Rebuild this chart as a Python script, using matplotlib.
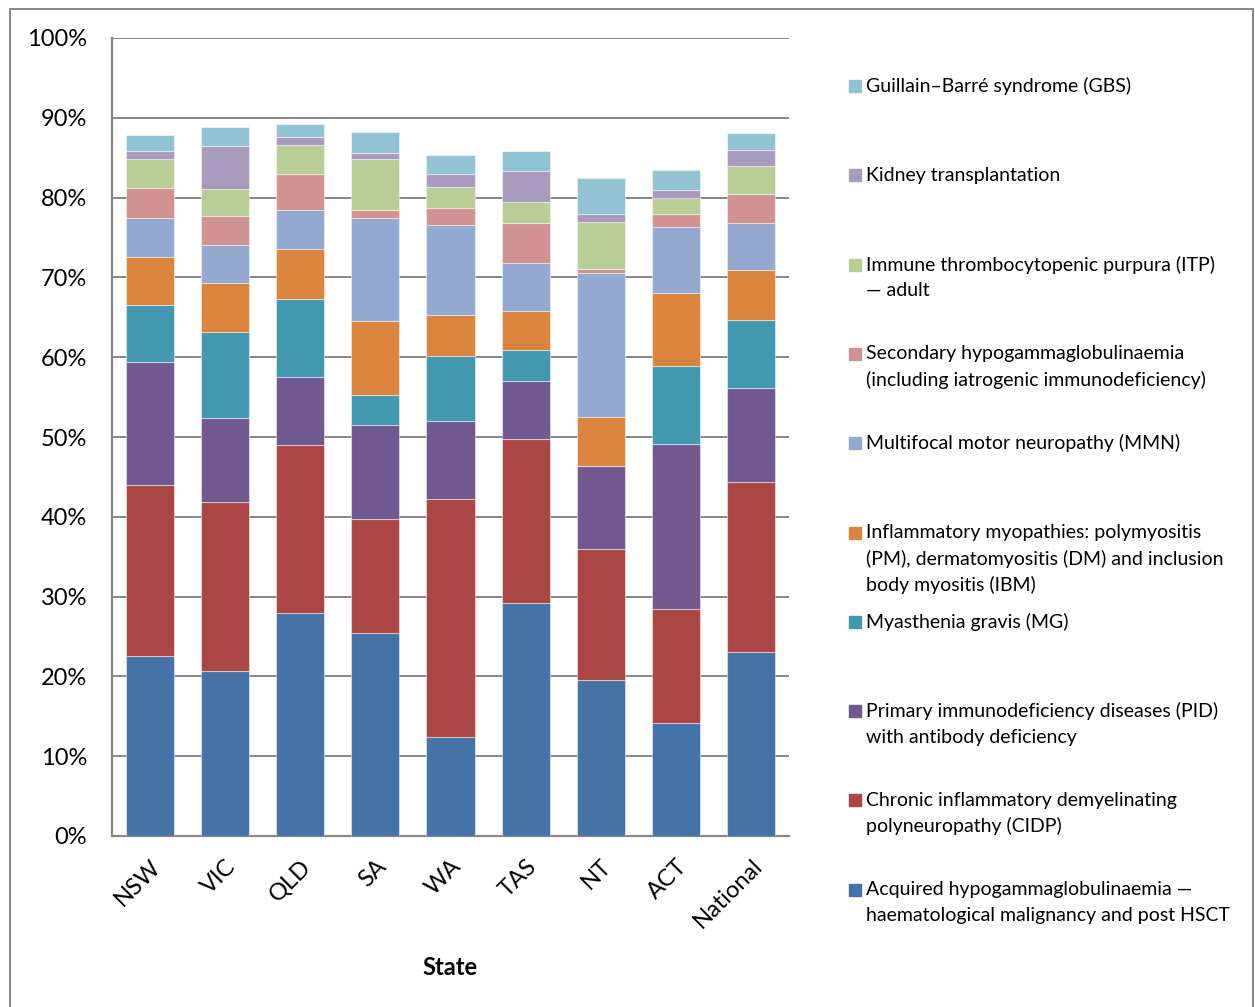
import matplotlib.pyplot as plt
from matplotlib.patches import Rectangle
from matplotlib.ticker import PercentFormatter
from matplotlib.transforms import ScaledTranslation
import numpy as np

plt.rcParams['font.family'] = ['Lato', 'DejaVu Sans']

states = ["NSW", "VIC", "QLD", "SA", "WA", "TAS", "NT", "ACT", "National"]

# share of use by condition (%), listed from the bottom of each stack up
acquired_hypo = [22.6, 20.7, 28.0, 25.4, 12.4, 29.2, 19.6, 14.2, 23.1]
cidp = [21.4, 21.1, 21.0, 14.3, 29.8, 20.5, 16.4, 14.2, 21.2]
pid = [15.4, 10.6, 8.5, 11.8, 9.8, 7.3, 10.4, 20.7, 11.9]
mg = [7.2, 10.8, 9.8, 3.8, 8.2, 3.9, 0.0, 9.8, 8.5]
myopathies = [5.9, 6.1, 6.3, 9.2, 5.1, 4.9, 6.1, 9.1, 6.2]
mmn = [5.0, 4.8, 4.8, 12.9, 11.3, 6.0, 18.1, 8.3, 5.9]
secondary_hypo = [3.7, 3.6, 4.5, 1.0, 2.1, 5.0, 0.5, 1.7, 3.6]
itp = [3.6, 3.4, 3.7, 6.4, 2.6, 2.6, 5.8, 1.9, 3.6]
kidney = [1.0, 5.4, 1.0, 0.8, 1.6, 3.9, 1.1, 1.1, 2.0]
gbs = [2.0, 2.3, 1.6, 2.6, 2.4, 2.5, 4.5, 2.5, 2.1]

series = [acquired_hypo, cidp, pid, mg, myopathies, mmn,
          secondary_hypo, itp, kidney, gbs]
labels = [
    ["Acquired hypogammaglobulinaemia \u2014",
     "haematological malignancy and post HSCT"],
    ["Chronic inflammatory demyelinating", "polyneuropathy (CIDP)"],
    ["Primary immunodeficiency diseases (PID)", "with antibody deficiency"],
    ["Myasthenia gravis (MG)"],
    ["Inflammatory myopathies: polymyositis",
     "(PM), dermatomyositis (DM) and inclusion",
     "body myositis (IBM)"],
    ["Multifocal motor neuropathy (MMN)"],
    ["Secondary hypogammaglobulinaemia",
     "(including iatrogenic immunodeficiency)"],
    ["Immune thrombocytopenic purpura (ITP)", "\u2014 adult"],
    ["Kidney transplantation"],
    ["Guillain\u2013Barr\u00e9 syndrome (GBS)"],
]
colors = ["#4572A7", "#AA4643", "#71588F", "#4198AF", "#DB843D",
          "#93A9CF", "#D19392", "#B9CD96", "#A99BBD", "#92C3D4"]

W, H = 1255, 1007
fig = plt.figure(figsize=(W / 100, H / 100), dpi=100)
ax = fig.add_axes([112 / W, 1 - 836 / H, (789 - 112) / W, (836 - 38) / H])

x = np.arange(len(states))
bottom = np.zeros(len(states))
for vals, col in zip(series, colors):
    ax.bar(x, vals, 0.64, bottom=bottom, color=col,
           edgecolor=(1, 1, 1, 0.45), linewidth=0.8, zorder=3)
    bottom += np.array(vals)

ax.set_xlim(-0.5, len(states) - 0.5)
ax.set_ylim(0, 100)
ax.set_yticks(np.arange(0, 101, 10))
ax.yaxis.set_major_formatter(PercentFormatter(xmax=100, decimals=0))
ax.grid(axis='y', color='#878787', linewidth=1.4, zorder=0)
ax.set_xticks(x)
ax.set_xticklabels(states, rotation=45, ha='right', va='top',
                   rotation_mode='anchor')
# nudge the slanted state names a little to the left
shift = ScaledTranslation(-4 / 100, 0, fig.dpi_scale_trans)
for lab in ax.get_xticklabels():
    lab.set_transform(lab.get_transform() + shift)
ax.tick_params(axis='y', length=0, pad=18, labelsize=17)
ax.tick_params(axis='x', length=0, pad=14, labelsize=17)
for side in ['top', 'right']:
    ax.spines[side].set_visible(False)
for side in ['left', 'bottom']:
    ax.spines[side].set_color('#878787')
    ax.spines[side].set_linewidth(1.6)
ax.set_xlabel("State", fontsize=17, fontweight='bold', labelpad=17)

# legend, top entry first, on evenly spaced slots
for i, (lines, col) in enumerate(zip(labels[::-1], colors[::-1])):
    yc = 86 + i * 89.3
    fig.add_artist(Rectangle((849 / W, 1 - (yc + 6) / H), 12 / W, 12 / H,
                             transform=fig.transFigure, color=col))
    for k, line in enumerate(lines):
        fig.text(866 / W, 1 - (yc + k * 26) / H, line, fontsize=14,
                 va='center', ha='left')

# outer chart frame
fig.add_artist(Rectangle((10 / W, -0.01), (1253 - 10) / W, 1 - 9 / H + 0.01,
                         transform=fig.transFigure, fill=False,
                         edgecolor='#878787', linewidth=1.4))

fig.savefig("out.png", dpi=100)
